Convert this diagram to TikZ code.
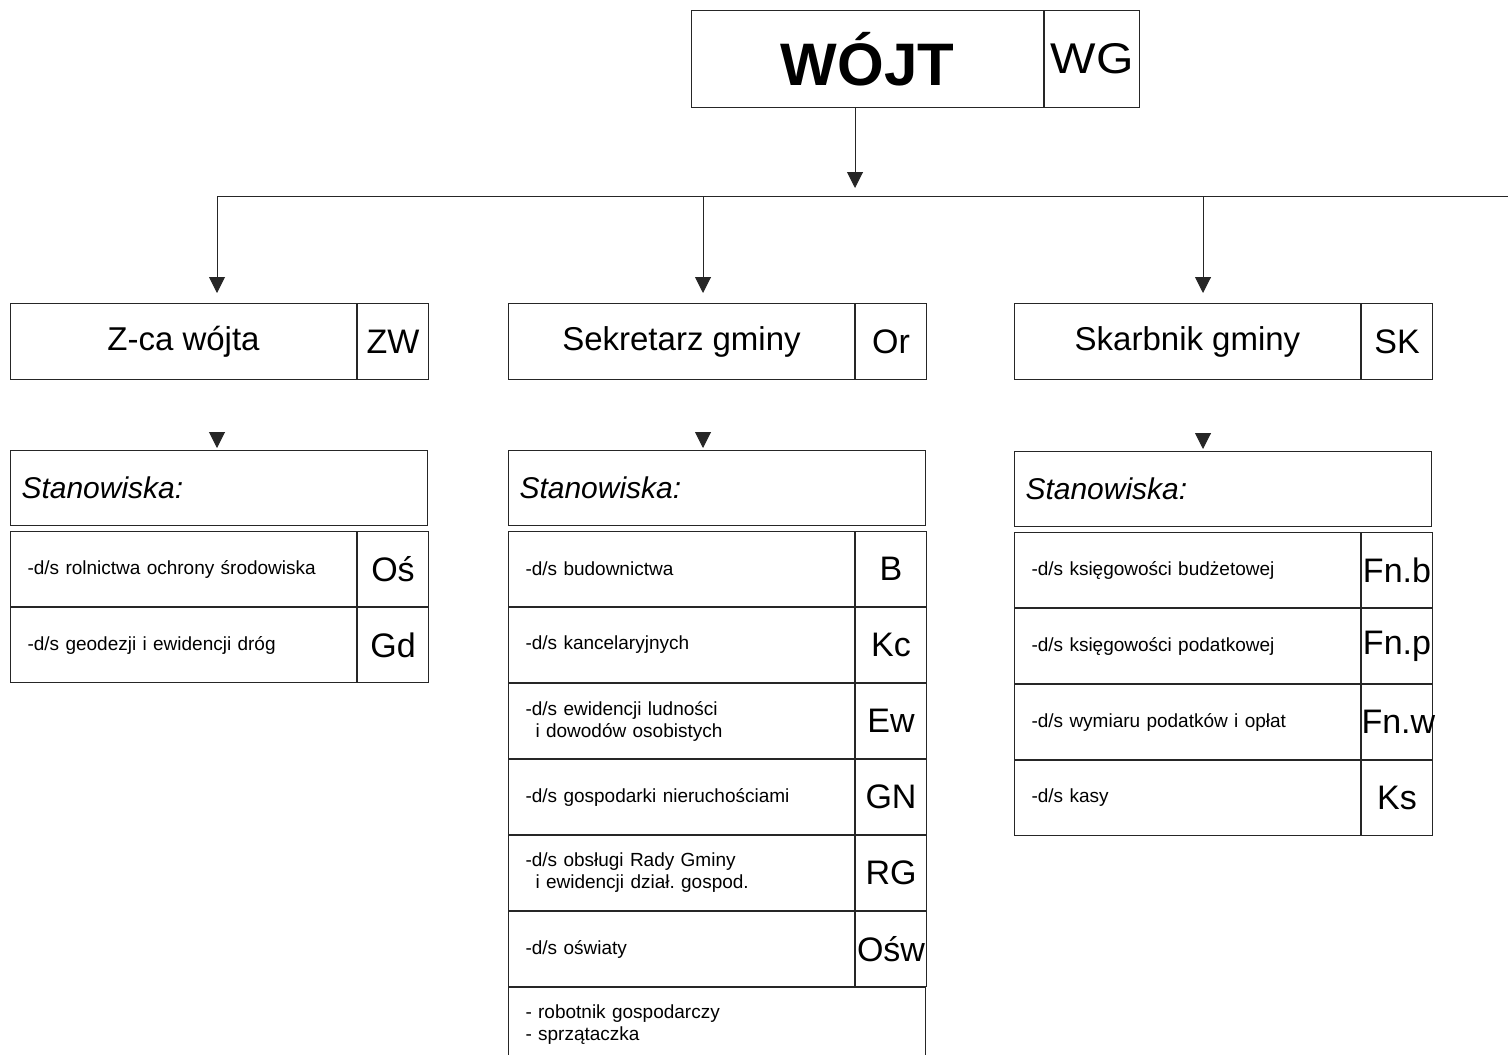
\documentclass[tikz,border=0pt]{standalone}
\usepackage{fontspec}
\setmainfont{Liberation Sans}
\usetikzlibrary{arrows.meta}
\frenchspacing

\begin{document}
\begin{tikzpicture}[x=1pt,y=-1pt,line width=1pt]
    \tikzstyle{cell}=[draw=black!85,rectangle,inner sep=0pt,anchor=north west]
    \tikzstyle{chief}=[cell,minimum width=352pt,minimum height=97pt,font=\fontsize{60}{66}\selectfont\bfseries]
    \tikzstyle{head}=[cell,minimum width=346pt,minimum height=76pt,font=\fontsize{33}{38}\selectfont]
    \tikzstyle{code}=[cell,text width=71pt,align=center,minimum height=75pt,font=\fontsize{34}{38}\selectfont]
    \tikzstyle{posts}=[cell,minimum width=417pt,minimum height=75pt,text width=395pt,inner xsep=11pt,align=left,font=\fontsize{30}{36}\selectfont\itshape]
    \tikzstyle{duty}=[cell,minimum width=346pt,minimum height=75pt,text width=312pt,inner xsep=17pt,align=left,font=\fontsize{19}{22}\selectfont]
    \tikzstyle{arr}=[draw=black!85,-{Triangle[length=16pt,width=16pt]}]
    \useasboundingbox (0,0) rectangle (1508,1055);
    \clip (0,0) rectangle (1508,1055);
    % top
    \node[chief] (wojt) at (691,10) {WÓJT};
    \node[cell,minimum width=95pt,minimum height=97pt,font=\fontsize{43}{46}\selectfont] (wg) at (wojt.north east) {\scalebox{1.12}[1]{WG}};
    % second level
    \node[head] (zca) at (10,303) {Z-ca wójta};
    \node[code,minimum height=76pt] (zw) at (zca.north east) {ZW};
    \node[head] (sek) at (508,303) {Sekretarz gminy};
    \node[code,minimum height=76pt] (or) at (sek.north east) {Or};
    \node[head] (skb) at (1014,303) {Skarbnik gminy};
    \node[code,minimum height=76pt] (sk) at (skb.north east) {SK};
    % stanowiska
    \node[posts] (st1) at (10,450) {Stanowiska:};
    \node[posts] (st2) at (508,450) {Stanowiska:};
    \node[posts] (st3) at (1014,451) {Stanowiska:};
    % left column
    \node[duty] (os) at (10,531) {-d/s rolnictwa ochrony środowiska};
    \node[code] (os_c) at (os.north east) {Oś};
    \node[duty] (gd) at (os.south west) {-d/s geodezji i ewidencji dróg};
    \node[code] (gd_c) at (gd.north east) {Gd};
    % middle column
    \node[duty] (bud) at (508,531) {-d/s budownictwa};
    \node[code] (bud_c) at (bud.north east) {B};
    \node[duty] (kc) at (bud.south west) {-d/s kancelaryjnych};
    \node[code] (kc_c) at (kc.north east) {Kc};
    \node[duty] (ew) at (kc.south west) {-d/s ewidencji ludności\\\hspace*{10pt}i dowodów osobistych};
    \node[code] (ew_c) at (ew.north east) {Ew};
    \node[duty] (gn) at (ew.south west) {-d/s gospodarki nieruchościami};
    \node[code] (gn_c) at (gn.north east) {GN};
    \node[duty] (rg) at (gn.south west) {-d/s obsługi Rady Gminy\\\hspace*{10pt}i ewidencji dział. gospod.};
    \node[code] (rg_c) at (rg.north east) {RG};
    \node[duty] (osw) at (rg.south west) {-d/s oświaty};
    \node[code] (osw_c) at (osw.north east) {Ośw};
    \node[duty,minimum width=417pt,text width=383pt] (rob) at (osw.south west) {- robotnik gospodarczy\\- sprzątaczka};
    % right column
    \node[duty] (fnb) at (1014,532) {-d/s księgowości budżetowej};
    \node[code] (fnb_c) at (fnb.north east) {Fn.b};
    \node[duty] (fnp) at (fnb.south west) {-d/s księgowości podatkowej};
    \node[code] (fnp_c) at (fnp.north east) {Fn.p};
    \node[duty] (fnw) at (fnp.south west) {-d/s wymiaru podatków i opłat};
    \node[code] (fnw_c) at (fnw.north east) {Fn.w};
    \node[duty] (ks) at (fnw.south west) {-d/s kasy};
    \node[code] (ks_c) at (ks.north east) {Ks};
    % connectors
    \coordinate (J) at (855,188);
    \coordinate (b1) at (217,196);
    \coordinate (b2) at (703,196);
    \coordinate (b3) at (1203,196);
    \coordinate (bR) at (1508,196);
    \draw[arr] (wojt.south -| J) -- (J);
    \draw[draw=black!85] (b1) -- (bR);
    \draw[arr,shorten >=10pt] (b1) -- (zca.north -| b1);
    \draw[arr,shorten >=10pt] (b2) -- (sek.north -| b2);
    \draw[arr,shorten >=10pt] (b3) -- (skb.north -| b3);
    \path (st1.north -| b1) coordinate (t1);
    \path (st2.north -| b2) coordinate (t2);
    \path (st3.north -| b3) coordinate (t3);
    \draw[arr] ([yshift=18pt]t1) -- ([yshift=2pt]t1);
    \draw[arr] ([yshift=18pt]t2) -- ([yshift=2pt]t2);
    \draw[arr] ([yshift=18pt]t3) -- ([yshift=2pt]t3);
  \end{tikzpicture}
\end{document}
